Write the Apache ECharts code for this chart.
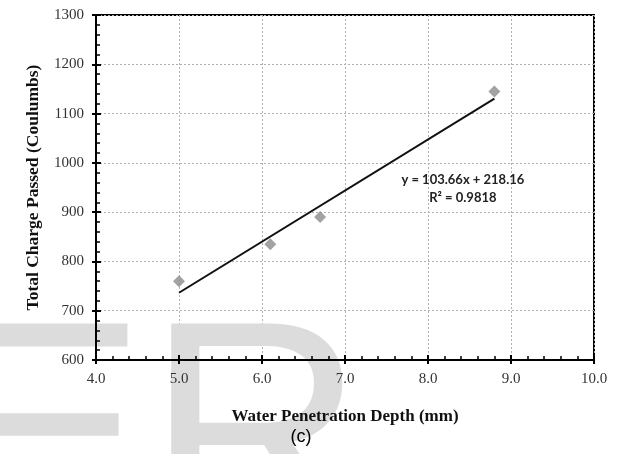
<!DOCTYPE html>
<html>
<head>
<meta charset="utf-8">
<script src="https://cdn.jsdelivr.net/npm/echarts@6/dist/echarts.min.js"></script>
<style>
  html, body { margin: 0; padding: 0; background: #fff; }
  #chart { width: 620px; height: 454px; }
</style>
</head>
<body>
<div id="chart"></div>
<script>
// Measured penetration depth (mm) vs. total charge passed (C)
const depthMm = [5.0, 6.1, 6.7, 8.8];
const chargeC = [760, 835, 890, 1145];

// Linear trend line as reported
const slope = 103.66;
const intercept = 218.16;
const rSquared = '0.9818';

const xTicks = { min: 4, max: 10, interval: 1 };
const yTicks = { min: 600, max: 1300, interval: 100 };

const points = depthMm.map((x, i) => [x, chargeC[i]]);
const xFirst = Math.min(...depthMm);
const xLast = Math.max(...depthMm);
const trend = [[xFirst, slope * xFirst + intercept], [xLast, slope * xLast + intercept]];

const serif = '"Liberation Serif", "DejaVu Serif", serif';
const chart = echarts.init(document.getElementById('chart'), null, { renderer: 'canvas' });

const gridBox = { left: 96, right: 26, top: 15, bottom: 94 };

function xAxisDef(withLabels) {
  return {
    type: 'value', position: 'bottom',
    min: xTicks.min, max: xTicks.max, interval: xTicks.interval,
    axisLine: { show: withLabels, lineStyle: { color: '#000', width: 2 } },
    axisTick: { show: true, inside: withLabels, length: withLabels ? 5 : 4,
                lineStyle: { color: '#000', width: 2 } },
    minorTick: { show: withLabels, splitNumber: 5, length: 4, lineStyle: { color: '#000', width: 1.5 } },
    axisLabel: { show: withLabels, margin: 12, color: '#333', fontFamily: serif, fontSize: 15,
                 formatter: v => v.toFixed(1) },
    splitLine: { show: withLabels, lineStyle: { color: '#b0b0b0', type: [2, 2], width: 1 } },
    name: withLabels ? 'Water Penetration Depth (mm)' : '',
    nameLocation: 'middle', nameGap: 48,
    nameTextStyle: { fontFamily: serif, fontWeight: 'bold', fontSize: 17, color: '#111' }
  };
}

function yAxisDef(withLabels) {
  return {
    type: 'value', position: 'left',
    min: yTicks.min, max: yTicks.max, interval: yTicks.interval,
    axisLine: { show: withLabels, lineStyle: { color: '#000', width: 2 } },
    axisTick: { show: true, inside: withLabels, length: withLabels ? 5 : 4,
                lineStyle: { color: '#000', width: 2 } },
    minorTick: { show: withLabels, splitNumber: 5, length: 4, lineStyle: { color: '#000', width: 1.5 } },
    axisLabel: { show: withLabels, margin: 12, color: '#333', fontFamily: serif, fontSize: 15,
                 formatter: v => String(v) },
    splitLine: { show: withLabels, lineStyle: { color: '#b0b0b0', type: [2, 2], width: 1 } },
    name: withLabels ? 'Total Charge Passed (Coulumbs)' : '',
    nameLocation: 'middle', nameGap: 54, nameRotate: 90,
    nameTextStyle: { fontFamily: serif, fontWeight: 'bold', fontSize: 17.5, color: '#111' }
  };
}

chart.setOption({
  animation: false,
  backgroundColor: '#fff',
  grid: Object.assign({ show: true, borderColor: '#000', borderWidth: 2, backgroundColor: 'transparent' }, gridBox),
  xAxis: [xAxisDef(true), xAxisDef(false)],
  yAxis: [yAxisDef(true), yAxisDef(false)],
  series: [
    {
      type: 'line', data: trend, xAxisIndex: 0, yAxisIndex: 0,
      showSymbol: false, lineStyle: { color: '#111', width: 2 }
    },
    {
      type: 'scatter', data: points, xAxisIndex: 0, yAxisIndex: 0,
      symbol: 'diamond', symbolSize: 12,
      itemStyle: { color: '#8c8c8c' }
    }
  ]
});

// Trend line equation placed beside the fitted line
const eqPos = chart.convertToPixel({ gridIndex: 0 }, [8.42, 948]);
chart.setOption({
  graphic: [
    {
      type: 'text', z: 0, silent: true,
      x: -55, y: 297,
      style: { text: 'ER', font: '302px "Liberation Sans", Arial, sans-serif', fill: '#dcdcdc',
               verticalAlign: 'top' }
    },
    {
      type: 'text', silent: true, x: 301, y: 437,
      style: { text: '(c)', font: '18px "Liberation Sans", Arial, sans-serif', fill: '#000',
               align: 'center', verticalAlign: 'middle' }
    },
    {
      type: 'text', silent: true, x: eqPos[0], y: eqPos[1],
      style: {
        text: 'y = ' + slope.toFixed(2) + 'x + ' + intercept.toFixed(2) + '\nR² = ' + rSquared,
        font: 'bold 13px Lato, "Open Sans", sans-serif', fill: '#222',
        align: 'center', verticalAlign: 'middle', lineHeight: 18
      }
    }
  ]
});
</script>
</body>
</html>
